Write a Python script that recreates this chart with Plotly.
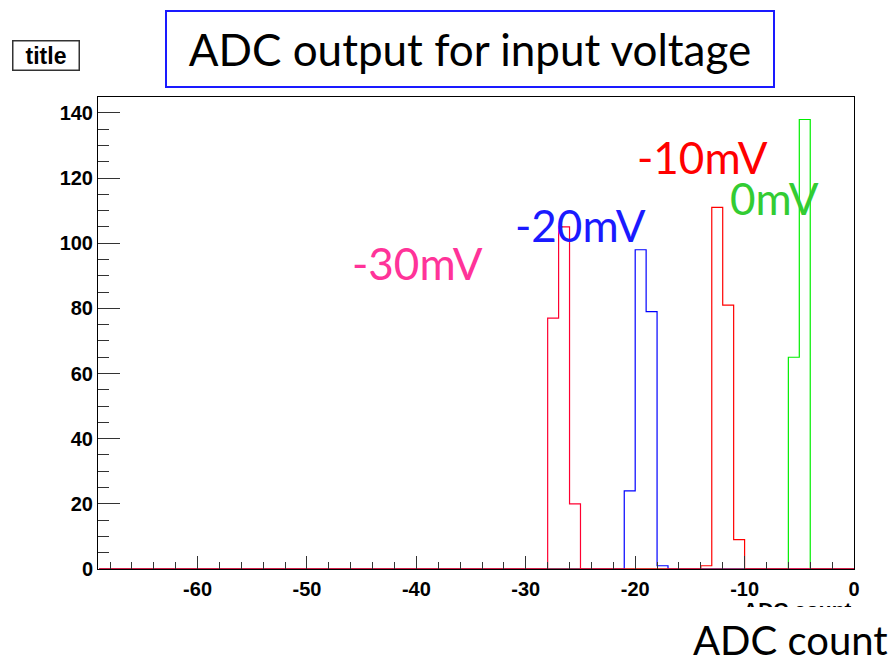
import plotly.graph_objects as go

# ---- data ----
x_min, x_max = -69, 0
bins_m30 = [-28, -27, -26]
counts_m30 = [77, 105, 20]
bins_m20 = [-21, -20, -19, -18]
counts_m20 = [24, 98, 79, 1]
bins_m10 = [-14, -13, -12, -11]
counts_m10 = [1, 111, 81, 9]
bins_0 = [-6, -5]
counts_0 = [65, 138]

x_tickvals = [-60, -50, -40, -30, -20, -10, 0]
x_ticktext = ["-60", "-50", "-40", "-30", "-20", "-10", "0"]
y_tickvals = [0, 20, 40, 60, 80, 100, 120, 140]
y_ticktext = ["0", "20", "40", "60", "80", "100", "120", "140"]

series_names = ["0mV", "-20mV", "-10mV", "-30mV"]
line_colors = ["#00ee00", "#0000ff", "#ff0000", "#ff0030"]
label_colors = ["#33cc33", "#1a1aff", "#ff0000", "#ff3399"]


def step_xy(bins, counts):
    full = {b: 0 for b in range(x_min, x_max)}
    for b, c in zip(bins, counts):
        full[b] = c
    xs, ys = [], []
    for b in range(x_min, x_max):
        xs += [b, b + 1]
        ys += [full[b], full[b]]
    return xs, ys


fig = go.Figure()
for (bins, counts), name, col in zip(
    [(bins_0, counts_0), (bins_m20, counts_m20), (bins_m10, counts_m10), (bins_m30, counts_m30)],
    series_names, line_colors):
    xs, ys = step_xy(bins, counts)
    fig.add_trace(go.Scatter(x=xs, y=ys, mode="lines", name=name,
                             line=dict(color=col, width=1.2), showlegend=False,
                             hoverinfo="skip"))

L, R, T, B = 98, 42, 97, 96
W, H = 896, 665
PW, PH = W - L - R, H - T - B


def px(v):
    return (v - L) / PW


def py(v):
    return (H - B - v) / PH


tickfont = dict(family="Liberation Sans", size=20, color="black", weight="bold")
fig.update_layout(
    width=W, height=H, margin=dict(l=L, r=R, t=T, b=B),
    paper_bgcolor="white", plot_bgcolor="white",
    xaxis=dict(range=[-69.1, 0], showgrid=False, zeroline=False, showline=True,
               linecolor="black", linewidth=1, mirror=True,
               ticks="inside", ticklen=13, tickwidth=1, tickcolor="#333",
               tickmode="array", tickvals=x_tickvals, ticktext=x_ticktext,
               minor=dict(ticks="inside", ticklen=7, dtick=2, tick0=0, tickcolor="#333"),
               tickfont=tickfont, ticklabelstandoff=2),
    yaxis=dict(range=[0, 144.9], showgrid=False, zeroline=False, showline=True,
               linecolor="black", linewidth=1, mirror=True,
               ticks="inside", ticklen=22, tickwidth=1, tickcolor="#333",
               tickmode="array", tickvals=y_tickvals, ticktext=y_ticktext,
               minor=dict(ticks="inside", ticklen=11, dtick=5, tick0=0, tickcolor="#333"),
               tickfont=tickfont),
)

ann = []
# top-left "title" box
ann.append(dict(text="<b>title</b>", x=px(46), y=py(55.5), xref="paper", yref="paper",
                xanchor="center", yanchor="middle", showarrow=False,
                font=dict(family="Liberation Sans", size=23, color="black"),
                bordercolor="#333", borderwidth=1.5, width=63, height=26,
                bgcolor="white"))
# main title box
ann.append(dict(text="ADC output for input voltage", x=px(470), y=py(48.5),
                xref="paper", yref="paper", xanchor="center", yanchor="middle",
                showarrow=False, font=dict(family="Lato", size=44, color="black"),
                bordercolor="#1a1aff", borderwidth=2, width=604, height=72,
                bgcolor="white"))
# series labels
for text, col, cx, cy in zip(["-30mV", "-20mV", "-10mV", "0mV"],
                             [label_colors[3], label_colors[1], label_colors[2], label_colors[0]],
                             [417.5, 580, 702, 774.5], [263, 225, 157, 198]):
    ann.append(dict(text=text, x=px(cx), y=py(cy), xref="paper", yref="paper",
                    xanchor="center", yanchor="middle", showarrow=False,
                    font=dict(family="Lato", size=44, color=col)))
# small clipped axis title
ann.append(dict(text="<b>ADC count</b>", x=px(853), y=py(597), xref="paper", yref="paper",
                xanchor="right", yanchor="top", showarrow=False, valign="top",
                height=9, borderpad=0,
                font=dict(family="Liberation Sans", size=21, color="black")))
# big axis title
ann.append(dict(text="ADC count", x=px(889), y=py(665), xref="paper", yref="paper",
                xanchor="right", yanchor="bottom", showarrow=False, borderpad=0,
                font=dict(family="Lato", size=40, color="black")))
fig.update_layout(annotations=ann)

fig.write_html("out.html")
